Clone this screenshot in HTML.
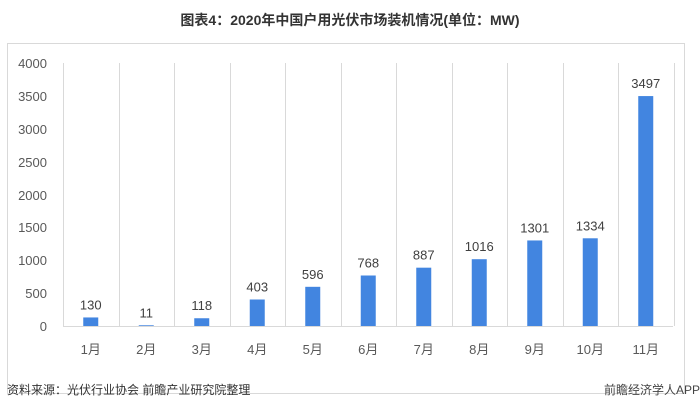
<!DOCTYPE html>
<html><head><meta charset="utf-8"><style>
body{margin:0;background:#fff;width:700px;height:411px;overflow:hidden;font-family:"Liberation Sans","Noto Sans CJK SC",sans-serif;}
</style></head><body>
<svg width="700" height="411" xmlns="http://www.w3.org/2000/svg" font-family="Liberation Sans, Noto Sans CJK SC, sans-serif">
<text x="350" y="25" text-anchor="middle" font-size="14" font-weight="bold" fill="#333">图表4：2020年中国户用光伏市场装机情况(单位：MW)</text>
<rect x="7.5" y="43.5" width="677" height="350" fill="#fff" stroke="#d9d9d9"/>
<g stroke="#d9d9d9" stroke-width="1">
<line x1="63" y1="326.5" x2="673" y2="326.5"/>
</g>
<g id="grid" stroke="#d9d9d9"></g>
<g id="bars"></g>
<g font-size="13" fill="#595959" text-anchor="end">
<text x="47" y="68">4000</text><text x="47" y="101">3500</text><text x="47" y="134">3000</text><text x="47" y="167">2500</text><text x="47" y="200">2000</text><text x="47" y="232">1500</text><text x="47" y="265">1000</text><text x="47" y="298">500</text><text x="47" y="331">0</text>
</g>
<g id="lbl"></g>
<text x="7" y="394" font-size="12" fill="#333">资料来源：光伏行业协会 前瞻产业研究院整理</text>
<text x="700" y="394" font-size="12" fill="#444" text-anchor="end">前瞻经济学人APP</text>
<script>
var v=[130,11,118,403,596,768,887,1016,1301,1334,3497],ns="http://www.w3.org/2000/svg";
function el(t,a,p,tx){var e=document.createElementNS(ns,t);for(var k in a)e.setAttribute(k,a[k]);if(tx)e.textContent=tx;document.getElementById(p).appendChild(e);}
for(var i=0;i<=11;i++){var x=Math.round(63+55.5*i)+0.5;el('line',{x1:x,y1:63,x2:x,y2:326},'grid');}
for(var i=0;i<11;i++){var c=63+55.5*(i+0.5),h=v[i]*0.06575,y=326-h;
el('rect',{x:c-7.5,y:y,width:15,height:h,fill:'#4285e0'},'bars');
el('text',{x:c,y:y-8,'font-size':13,fill:'#404040','text-anchor':'middle'},'lbl',String(v[i]));
el('text',{x:c,y:354,'font-size':13,fill:'#595959','text-anchor':'middle'},'lbl',(i+1)+'月');}
</script>
</svg>
</body></html>
